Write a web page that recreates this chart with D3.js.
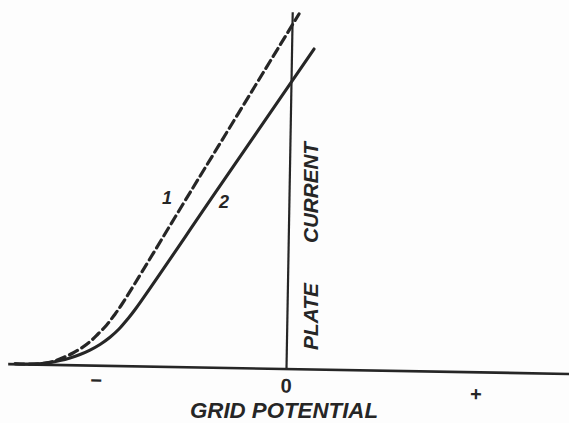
<!DOCTYPE html>
<html>
<head>
<meta charset="utf-8">
<script src="https://cdn.jsdelivr.net/npm/d3@7"></script>
<style>
  html, body { margin: 0; padding: 0; background: #fdfdfd; }
  svg { display: block; }
</style>
</head>
<body>
<div id="chart"></div>
<script>
// ---- data (grid potential / plate current, arbitrary units) ----
const gridTicks = [-1, 0, 1];
const gridTickLabels = ["\u2212", "0", "+"];
const xTitle = "GRID POTENTIAL";
const yTitleWords = ["PLATE", "CURRENT"];
const seriesNames = ["1", "2"];

// curve 1 (dashed)
const curve1X = [-1.426, -1.3475, -1.2687, -1.2163, -1.1693, -1.1223, -1.078, -1.0339, -0.9925, -0.9475, -0.91, -0.872, -0.5132, 0.0359];
const curve1Y = [0.0, 0.0, 0.031, 0.103, 0.206, 0.331, 0.476, 0.657, 0.877, 1.134, 1.404, 1.703, 4.967, 9.963];
// curve 2 (solid)
const curve2X = [-1.426, -1.3475, -1.2687, -1.1901, -1.1376, -1.0853, -1.0331, -0.981, -0.929, -0.8824, -0.8412, -0.7975, -0.3784, 0.118];
const curve2Y = [0.0, 0.0, 0.031, 0.114, 0.192, 0.292, 0.421, 0.583, 0.79, 1.027, 1.29, 1.597, 4.98, 8.987];

const xAxisExtent = [-1.465, 1.49];
const yAxisTop = 10.02;

// ---- layout ----
const W = 569, H = 423;
const ink = "#262626";
const ox = 286, oy = 368.5;
const x = d3.scaleLinear().domain([-1, 1]).range([ox - 190, ox + 190]);
const y = d3.scaleLinear().domain([0, 10]).range([oy, 12.5]);

const svg = d3.select("#chart").append("svg")
  .attr("width", W).attr("height", H)
  .style("background", "#fdfdfd");

const g = svg.append("g").attr("transform", `rotate(1, ${ox}, ${oy})`);

// horizontal axis (grid potential)
const xAxis = d3.axisBottom(x.copy().domain(xAxisExtent).range(xAxisExtent.map(x)))
  .tickValues(gridTicks)
  .tickSize(0)
  .tickPadding(12)
  .tickFormat((d, i) => gridTickLabels[i]);
const xg = g.append("g").attr("transform", `translate(0, ${y(0)})`).call(xAxis);
xg.select(".domain").attr("stroke", ink).attr("stroke-width", 2.6);
xg.selectAll(".tick text")
  .style("font-size", "20px")
  .style("font-family", "Liberation Sans, sans-serif")
  .style("font-weight", "bold")
  .style("font-style", "normal")
  .style("fill", ink)
  .attr("dy", (d) => d === -1 ? "0.5em" : d === 1 ? "0.85em" : "0.6em");

// vertical axis (plate current)
const yAxis = d3.axisRight(y.copy().domain([0, yAxisTop]).range([y(0), y(yAxisTop)]))
  .tickValues([]).tickSize(0);
const yg = g.append("g").attr("transform", `translate(${x(0)}, 0)`).call(yAxis);
yg.select(".domain").attr("stroke", ink).attr("stroke-width", 2.2);

// curves
const line = d3.line().x(d => x(d[0])).y(d => y(d[1])).curve(d3.curveCatmullRom.alpha(0.5));
const c1 = curve1X.map((v, i) => [v, curve1Y[i]]);
const c2 = curve2X.map((v, i) => [v, curve2Y[i]]);

g.append("path").datum(c2)
  .attr("d", line).attr("fill", "none").attr("stroke", ink)
  .attr("stroke-width", 3.1).attr("stroke-linecap", "round");
g.append("path").datum(c1)
  .attr("d", line).attr("fill", "none").attr("stroke", ink)
  .attr("stroke-width", 3.2).attr("stroke-linecap", "round")
  .attr("stroke-dasharray", "9,5");

// text helper
function label(sel) {
  return sel.style("font-family", "Liberation Sans, DejaVu Sans, sans-serif")
    .style("font-weight", "bold").style("font-style", "italic").style("fill", ink);
}

// series labels
label(svg.append("text")).attr("x", 167).attr("y", 204).style("font-size", "18px")
  .attr("text-anchor", "middle").text(seriesNames[0]);
label(svg.append("text")).attr("x", 224).attr("y", 208).style("font-size", "18px")
  .attr("text-anchor", "middle").text(seriesNames[1]);

// axis titles
label(svg.append("text")).attr("x", 190).attr("y", 418).style("font-size", "22px")
  .attr("textLength", 188).attr("lengthAdjust", "spacingAndGlyphs").text(xTitle);

label(svg.append("text")).attr("transform", "translate(318, 350) rotate(-90)")
  .style("font-size", "21px").attr("textLength", 67).attr("lengthAdjust", "spacingAndGlyphs")
  .text(yTitleWords[0]);
label(svg.append("text")).attr("transform", "translate(318, 243) rotate(-90)")
  .style("font-size", "21px").attr("textLength", 101).attr("lengthAdjust", "spacingAndGlyphs")
  .text(yTitleWords[1]);
</script>
</body>
</html>
